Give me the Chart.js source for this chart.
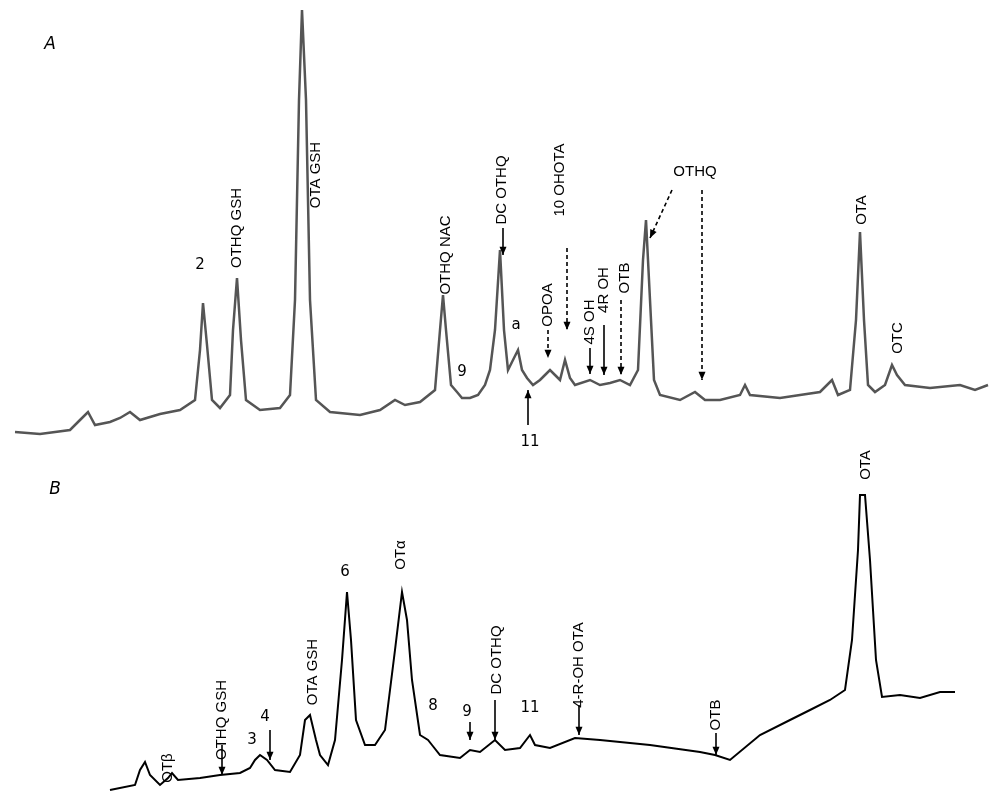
<!DOCTYPE html>
<html><head><meta charset="utf-8">
<script src="https://cdn.jsdelivr.net/npm/chart.js@4"></script>
<style>html,body{margin:0;padding:0;background:#fff}#w{width:1000px;height:803px}</style>
</head><body><div id="w"><canvas id="c"></canvas></div>
<script>
// Trace A: retention position and detector signal
const timeA = [15,40,70,80,88,95,110,120,130,140,160,180,195,200,203,207,212,220,230,233,237,241,246,260,280,290,295,299,302,306,310,316,330,360,380,395,405,420,435,440,443,446,451,457,462,470,478,485,490,495,500,504,508,513,518,522,527,533,540,545,550,555,560,565,570,575,590,600,610,620,630,638,643,646,650,654,660,680,695,705,720,740,745,750,780,800,820,832,838,850,856,860,864,868,875,885,892,897,905,930,960,975,988];
const signalA = [18,16,20,30,38,25,28,32,38,30,36,40,50,100,147,105,50,42,55,120,172,110,50,40,42,55,150,350,440,350,150,50,38,35,40,50,45,48,60,120,155,120,65,58,52,52,55,65,80,120,200,120,80,90,100,80,72,65,70,75,80,75,70,90,72,65,70,65,67,70,65,80,190,230,150,70,55,50,58,50,50,55,65,55,52,55,58,70,55,60,130,218,130,65,58,65,85,75,65,62,65,60,65];
// Trace B
const timeB = [110,135,140,145,150,160,168,172,178,200,220,240,250,255,260,267,275,290,300,305,310,316,320,328,335,342,347,351,356,365,375,385,395,402,407,412,420,428,432,440,460,470,480,495,505,520,530,535,550,575,600,650,700,715,730,760,790,810,830,845,852,858,860,865,870,876,882,900,920,940,955];
const signalB = [13,18,33,41,28,18,25,30,23,25,28,30,35,43,48,43,33,31,48,83,88,63,48,38,63,143,211,163,83,58,58,73,153,211,183,123,68,63,58,48,45,53,51,63,53,55,68,58,55,65,63,58,51,48,43,68,83,93,103,113,163,253,308,308,243,143,106,108,105,111,111];
// Annotations: [panel, x, signal, text, rotated, font]
const labels = [
 ['A',50,405,'A',0,'comic'],['A',200,185,'2',0,'comic'],['A',237,222,'OTHQ GSH',1],['A',316,275,'OTA GSH',1],
 ['A',446,195,'OTHQ NAC',1],['A',462,78,'9',0,'comic'],['A',502,260,'DC OTHQ',1],['A',516,125,'a',0,'comic'],
 ['A',548,145,'OPOA',1],['A',560,270,'10 OHOTA',1],['A',590,128,'4S OH',1],['A',604,160,'4R OH',1],
 ['A',625,172,'OTB',1],['A',695,278,'OTHQ',0],['A',862,240,'OTA',1],['A',898,112,'OTC',1],['A',530,8,'11',0,'comic'],
 ['B',55,313,'B',0,'comic'],['B',168,35,'OTβ',1],['B',222,83,'OTHQ GSH',1],['B',265,86,'4',0,'comic'],['B',252,63,'3',0,'comic'],
 ['B',313,131,'OTA GSH',1],['B',345,231,'6',0,'comic'],['B',401,248,'OTα',1],['B',433,97,'8',0,'comic'],['B',467,91,'9',0,'comic'],
 ['B',497,143,'DC OTHQ',1],['B',530,95,'11',0,'comic'],['B',579,138,'4-R-OH OTA',1],['B',716,88,'OTB',1],['B',866,338,'OTA',1]
];
// Arrows: [panel, x1, s1, x2, s2, dashed]
const arrows = [
 ['A',503,222,503,195,0],['A',548,120,548,92,1],['A',567,202,567,120,1],['A',590,102,590,76,0],['A',604,125,604,75,0],
 ['A',621,150,621,75,1],['A',672,260,650,212,1],['A',702,260,702,70,1],['A',528,25,528,60,0],
 ['B',222,58,222,28,0],['B',270,73,270,43,0],['B',470,81,470,63,0],['B',495,103,495,63,0],['B',579,98,579,68,0],['B',716,70,716,48,0]
];
const annot = {
 id:'annot',
 afterDatasetsDraw(ch){
  const c=ch.ctx, x=ch.scales.x;
  const Y=p=>p==='A'?ch.scales.yA:ch.scales.yB;
  c.save(); c.fillStyle='#000'; c.strokeStyle='#000'; c.lineWidth=1.6;
  for(const [p,x1,s1,x2,s2,d] of arrows){
   const px1=x.getPixelForValue(x1),py1=Y(p).getPixelForValue(s1),px2=x.getPixelForValue(x2),py2=Y(p).getPixelForValue(s2);
   c.setLineDash(d?[4,3]:[]); c.beginPath(); c.moveTo(px1,py1); c.lineTo(px2,py2); c.stroke(); c.setLineDash([]);
   const a=Math.atan2(py2-py1,px2-px1); c.beginPath(); c.moveTo(px2,py2);
   c.lineTo(px2-9*Math.cos(a-0.4),py2-9*Math.sin(a-0.4)); c.lineTo(px2-9*Math.cos(a+0.4),py2-9*Math.sin(a+0.4)); c.closePath(); c.fill();
  }
  c.textAlign='center'; c.textBaseline='middle';
  for(const [p,lx,ls,t,r,f] of labels){
   const px=x.getPixelForValue(lx),py=Y(p).getPixelForValue(ls);
   c.font = f==='comic' ? ((t==='A'||t==='B')?'italic 17px "DejaVu Sans"':'15px "DejaVu Sans"') : '15px "Liberation Sans"';
   c.save(); c.translate(px,py); if(r) c.rotate(-Math.PI/2); c.fillText(t,0,0); c.restore();
  }
  c.restore();
 }
};
const hid = {grid:{display:false},ticks:{display:false},border:{display:false}};
new Chart(document.getElementById('c'),{
 type:'line',
 data:{datasets:[
  {data:timeA.map((t,i)=>({x:t,y:signalA[i]})),yAxisID:'yA',borderColor:'#555',borderWidth:2.5,pointRadius:0,tension:0},
  {data:timeB.map((t,i)=>({x:t,y:signalB[i]})),yAxisID:'yB',borderColor:'#000',borderWidth:2,pointRadius:0,tension:0}
 ]},
 options:{responsive:true,maintainAspectRatio:false,animation:false,
  layout:{padding:0},
  plugins:{legend:{display:false},tooltip:{enabled:false}},
  scales:{
   x:{type:'linear',min:0,max:1000,display:false},
   yB:{...hid,min:0,max:353,stack:'v',stackWeight:353,offset:false,afterFit(s){s.width=0}},
   yA:{...hid,min:0,max:450,stack:'v',stackWeight:450,offset:false,afterFit(s){s.width=0}}
  }},
 plugins:[annot]
});
</script></body></html>
